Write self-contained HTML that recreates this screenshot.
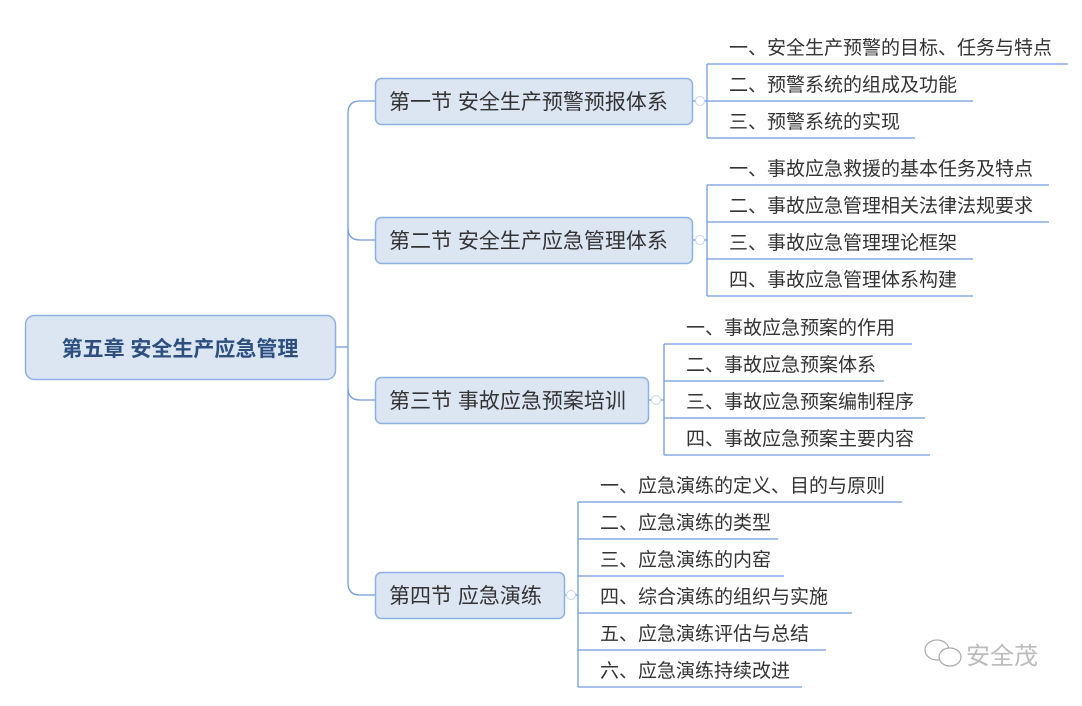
<!DOCTYPE html>
<html><head><meta charset="utf-8"><style>
body{margin:0;background:#fff}
svg text{font-family:"Liberation Sans","Noto Sans CJK SC",sans-serif;fill:#333}
</style></head><body>
<svg width="1082" height="701" viewBox="0 0 1082 701" xmlns="http://www.w3.org/2000/svg">
<g fill="none" stroke="#6f9be0" stroke-width="1.3">
<path d="M336 347 H348"/>
<path d="M375 101 H360 Q348 101 348 113 V583 Q348 595 360 595 H375"/>
<path d="M348 228 Q348 240 360 240 H375"/>
<path d="M348 388 Q348 400 360 400 H375"/>
<path d="M692 101 H707"/>
<path d="M707 64 V138"/>
<path d="M707 64 H1068 M707 101 H973 M707 138 H915"/>
<path d="M692 240 H707"/>
<path d="M707 185 V296"/>
<path d="M707 185 H1049 M707 222 H1049 M707 259 H973 M707 296 H973"/>
<path d="M648 400 H664"/>
<path d="M664 344 V455"/>
<path d="M664 344 H912 M664 381 H884 M664 418 H925 M664 455 H930"/>
<path d="M564 595 H578"/>
<path d="M578 502 V687"/>
<path d="M578 502 H902 M578 539 H778 M578 576 H784 M578 613 H852 M578 650 H826 M578 687 H802"/>
</g>
<g fill="#fff" stroke="#c5d4ee" stroke-width="1">
<circle cx="700" cy="101" r="4.5"/><circle cx="700" cy="240" r="4.5"/>
<circle cx="656" cy="400" r="4.5"/><circle cx="571" cy="595" r="4.5"/>
</g>
<g fill="#dce6f3" stroke="#8db0e2" stroke-width="1.5">
<rect x="25.5" y="315.5" width="310" height="64" rx="9"/>
<rect x="375.5" y="78.5" width="317" height="46" rx="6"/>
<rect x="375.5" y="217.5" width="317" height="46" rx="6"/>
<rect x="375.5" y="377.5" width="273" height="46" rx="6"/>
<rect x="375.5" y="572.5" width="189" height="46" rx="6"/>
</g>
<text x="180" y="356" text-anchor="middle" font-size="21" font-weight="bold" style="fill:#2c4f80">第五章 安全生产应急管理</text>
<g font-size="21" style="fill:#333">
<text x="389" y="109">第一节 安全生产预警预报体系</text>
<text x="389" y="248">第二节 安全生产应急管理体系</text>
<text x="389" y="408">第三节 事故应急预案培训</text>
<text x="389" y="603">第四节 应急演练</text>
</g>
<g font-size="19">
<text x="729" y="54">一、安全生产预警的目标、任务与特点</text>
<text x="729" y="91">二、预警系统的组成及功能</text>
<text x="729" y="128">三、预警系统的实现</text>
<text x="729" y="175">一、事故应急救援的基本任务及特点</text>
<text x="729" y="212">二、事故应急管理相关法律法规要求</text>
<text x="729" y="249">三、事故应急管理理论框架</text>
<text x="729" y="286">四、事故应急管理体系构建</text>
<text x="686" y="334">一、事故应急预案的作用</text>
<text x="686" y="371">二、事故应急预案体系</text>
<text x="686" y="408">三、事故应急预案编制程序</text>
<text x="686" y="445">四、事故应急预案主要内容</text>
<text x="600" y="492">一、应急演练的定义、目的与原则</text>
<text x="600" y="529">二、应急演练的类型</text>
<text x="600" y="566">三、应急演练的内窑</text>
<text x="600" y="603">四、综合演练的组织与实施</text>
<text x="600" y="640">五、应急演练评估与总结</text>
<text x="600" y="677">六、应急演练持续改进</text>
</g>
<g fill="none" stroke="#aaa" stroke-width="1.2">
<ellipse cx="937" cy="650" rx="12" ry="10"/>
<ellipse cx="950" cy="657" rx="11" ry="9" fill="#fff"/>
</g>
<text x="966" y="664" font-size="24" style="fill:#bbb">安全茂</text>
</svg>
</body></html>
